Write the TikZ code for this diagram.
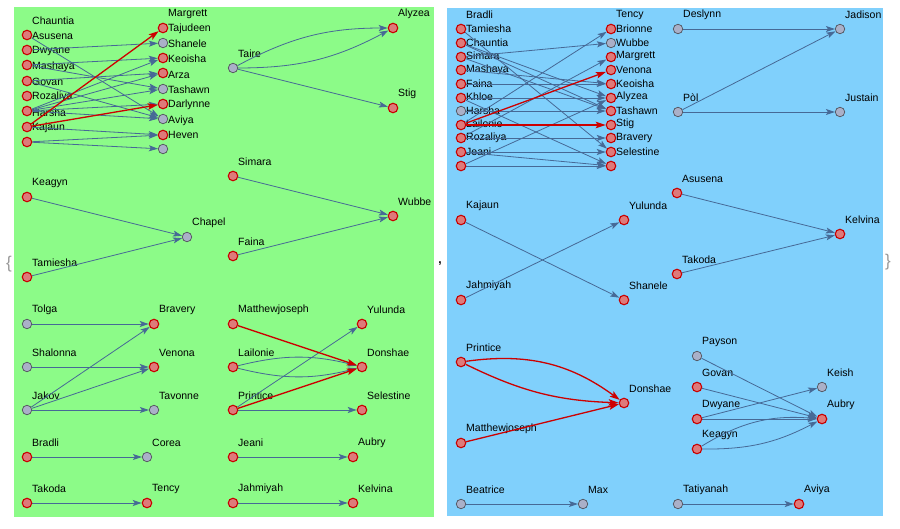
\documentclass[tikz,border=0pt]{standalone}
\usepackage{fontspec}
\setmainfont{Liberation Sans}
\usetikzlibrary{arrows.meta}
\definecolor{gbg}{RGB}{140,251,136}
\definecolor{bbg}{RGB}{128,208,252}
\definecolor{nfr}{RGB}{222,122,122}
\definecolor{ndr}{RGB}{200,0,0}
\definecolor{nfg}{RGB}{170,176,200}
\definecolor{ndg}{RGB}{80,80,90}
\definecolor{ebc}{RGB}{70,105,150}
\definecolor{erc}{RGB}{205,0,0}
\pgfdeclarelayer{lbls}
\pgfdeclarelayer{edges}
\pgfsetlayers{lbls,edges,main}
\tikzset{
 rn/.style={circle,minimum size=9.5pt,inner sep=0pt,fill=nfr,draw=ndr,line width=1.1pt},
 gn/.style={circle,minimum size=9.5pt,inner sep=0pt,fill=nfg,draw=ndg,line width=0.7pt},
 lbl/.style={anchor=west,inner sep=0pt,font=\fontsize{10.5}{12}\selectfont},
 eb/.style={draw=ebc,line width=0.8pt,-{Stealth[length=9pt,width=6pt,inset=2pt]}},
 er/.style={draw=erc,line width=1.3pt,-{Stealth[length=10pt,width=6.5pt,inset=2pt]}},
 brc/.style={text=black!40,font=\fontsize{17}{17}\selectfont,inner sep=0pt},
}
\newcommand\V[5]{\node[#5] (#1) at (#2,#3) {};\ifx&#4&\else\begin{pgfonlayer}{lbls}\node[lbl] (#1-l) at ({#2+5},{#3-14}) {#4};\end{pgfonlayer}\fi}
\begin{document}
\begin{tikzpicture}[x=1pt,y=-1pt]
\useasboundingbox (0,0) rectangle (900,529);
\begin{pgfonlayer}{lbls}
\fill[gbg] (14,7) rectangle (434,517);
\fill[bbg] (447,8) rectangle (883,516);
\end{pgfonlayer}
\node[brc] (lb) at (9,264) {\{};
\node[inner sep=0pt,font=\fontsize{12}{12}\selectfont\bfseries] (cm) at (440,264) {,};
\node[brc] (rb) at (888,262) {\}};
% ===== green panel, cluster A
\V{aChauntia}{27}{35}{Chauntia}{rn}
\V{aAsusena}{27}{50}{Asusena}{rn}
\V{aDwyane}{27}{65}{Dwyane}{rn}
\V{aMashaya}{27}{81}{Mashaya}{rn}
\V{aGovan}{27}{96}{Govan}{rn}
\V{aRozaliya}{27}{111}{Rozaliya}{rn}
\V{aHarsha}{27}{127}{Harsha}{rn}
\V{aKajaun}{27}{142}{Kajaun}{rn}
\V{aMargrett}{163}{28}{Margrett}{rn}
\V{aTajudeen}{163}{43}{Tajudeen}{gn}
\V{aShanele}{163}{58}{Shanele}{rn}
\V{aKeoisha}{163}{73}{Keoisha}{rn}
\V{aArza}{163}{89}{Arza}{gn}
\V{aTashawn}{163}{104}{Tashawn}{rn}
\V{aDarlynne}{163}{119}{Darlynne}{gn}
\V{aAviya}{163}{135}{Aviya}{rn}
\V{aHeven}{163}{149}{Heven}{gn}
\begin{pgfonlayer}{edges}
\draw[eb] (aChauntia) -- (aDarlynne);
\draw[eb] (aAsusena) -- (aTajudeen);
\draw[eb] (aDwyane) -- (aShanele);
\draw[eb] (aDwyane) -- (aArza);
\draw[eb] (aMashaya) -- (aKeoisha);
\draw[eb] (aMashaya) -- (aDarlynne);
\draw[eb] (aRozaliya) -- (aShanele);
\draw[eb] (aRozaliya) -- (aKeoisha);
\draw[eb] (aRozaliya) -- (aArza);
\draw[eb] (aRozaliya) -- (aTashawn);
\draw[eb] (aRozaliya) -- (aDarlynne);
\draw[eb] (aHarsha) -- (aAviya);
\draw[eb] (aKajaun) -- (aAviya);
\draw[eb] (aKajaun) -- (aHeven);
\draw[er] (aHarsha) -- (aMargrett);
\draw[er] (aHarsha) -- (aTashawn);
\end{pgfonlayer}
% Taire
\V{bTaire}{233}{68}{Taire}{gn}
\V{bAlyzea}{393}{28}{Alyzea}{rn}
\V{bStig}{393}{108}{Stig}{rn}
\begin{pgfonlayer}{edges}
\draw[eb] (bTaire) to[bend left=14] (bAlyzea);
\draw[eb] (bTaire) to[bend right=14] (bAlyzea);
\draw[eb] (bTaire) -- (bStig);
\end{pgfonlayer}
% Chapel
\V{cKeagyn}{27}{197}{Keagyn}{rn}
\V{cTamiesha}{27}{277}{Tamiesha}{rn}
\V{cChapel}{187}{237}{Chapel}{gn}
\V{cSimara}{233}{176}{Simara}{rn}
\V{cFaina}{233}{256}{Faina}{rn}
\V{cWubbe}{393}{216}{Wubbe}{rn}
\begin{pgfonlayer}{edges}
\draw[eb] (cKeagyn) -- (cChapel);
\draw[eb] (cTamiesha) -- (cChapel);
\draw[eb] (cSimara) -- (cWubbe);
\draw[eb] (cFaina) -- (cWubbe);
\end{pgfonlayer}
% bottom left green
\V{dTolga}{27}{324}{Tolga}{gn}
\V{dBravery}{154}{324}{Bravery}{rn}
\V{dShalonna}{27}{367}{Shalonna}{gn}
\V{dVenona}{154}{367}{Venona}{rn}
\V{dJakov}{27}{410}{Jakov}{gn}
\V{dTavonne}{154}{410}{Tavonne}{gn}
\V{dBradli}{27}{457}{Bradli}{rn}
\V{dCorea}{147}{457}{Corea}{gn}
\V{dTakoda}{27}{503}{Takoda}{rn}
\V{dTency}{147}{503}{Tency}{rn}
\begin{pgfonlayer}{edges}
\draw[eb] (dTolga) -- (dBravery);
\draw[eb] (dShalonna) -- (dVenona);
\draw[eb] (dJakov) -- (dBravery);
\draw[eb] (dJakov) -- (dVenona);
\draw[eb] (dJakov) -- (dTavonne);
\draw[eb] (dBradli) -- (dCorea);
\draw[eb] (dTakoda) -- (dTency);
\end{pgfonlayer}
% bottom right green
\V{eMatthewjoseph}{233}{324}{Matthewjoseph}{rn}
\V{eYulunda}{362}{324}{Yulunda}{rn}
\V{eLailonie}{233}{367}{Lailonie}{rn}
\V{eDonshae}{362}{367}{Donshae}{rn}
\V{ePrintice}{233}{410}{Printice}{rn}
\V{eSelestine}{362}{410}{Selestine}{rn}
\V{eJeani}{233}{457}{Jeani}{rn}
\V{eAubry}{353}{457}{Aubry}{rn}
\V{eJahmiyah}{233}{503}{Jahmiyah}{rn}
\V{eKelvina}{353}{503}{Kelvina}{rn}
\begin{pgfonlayer}{edges}
\draw[eb] (eLailonie) to[bend left=14] (eDonshae);
\draw[eb] (eLailonie) to[bend right=14] (eDonshae);
\draw[eb] (ePrintice) -- (eYulunda);
\draw[eb] (ePrintice) -- (eSelestine);
\draw[eb] (eJeani) -- (eAubry);
\draw[eb] (eJahmiyah) -- (eKelvina);
\draw[er] (eMatthewjoseph) -- (eDonshae);
\draw[er] (ePrintice) -- (eDonshae);
\end{pgfonlayer}
% ===== blue panel cluster
\V{fBradli}{461}{29}{Bradli}{rn}
\V{fTamiesha}{461}{43}{Tamiesha}{rn}
\V{fChauntia}{461}{57}{Chauntia}{rn}
\V{fSimara}{461}{70}{Simara}{rn}
\V{fMashaya}{461}{84}{Mashaya}{rn}
\V{fFaina}{461}{98}{Faina}{rn}
\V{fKhloe}{461}{111}{Khloe}{gn}
\V{fHarsha}{461}{125}{Harsha}{rn}
\V{fLailonie}{461}{138}{Lailonie}{rn}
\V{fRozaliya}{461}{152}{Rozaliya}{rn}
\V{fJeani}{461}{166}{Jeani}{rn}
\V{fTency}{611}{29}{Tency}{rn}
\V{fBrionne}{611}{43}{Brionne}{gn}
\V{fWubbe}{611}{57}{Wubbe}{rn}
\V{fMargrett}{611}{70}{Margrett}{rn}
\V{fVenona}{611}{84}{Venona}{rn}
\V{fKeoisha}{611}{98}{Keoisha}{rn}
\V{fAlyzea}{611}{111}{Alyzea}{rn}
\V{fTashawn}{611}{125}{Tashawn}{rn}
\V{fStig}{611}{138}{Stig}{rn}
\V{fBravery}{611}{152}{Bravery}{rn}
\V{fSelestine}{611}{166}{Selestine}{rn}
\begin{pgfonlayer}{edges}
\draw[eb] (fBradli) -- (fBravery);
\draw[eb] (fTamiesha) -- (fKeoisha);
\draw[eb] (fTamiesha) -- (fAlyzea);
\draw[eb] (fChauntia) -- (fBrionne);
\draw[eb] (fChauntia) -- (fAlyzea);
\draw[eb] (fSimara) -- (fVenona);
\draw[eb] (fMashaya) -- (fVenona);
\draw[eb] (fFaina) -- (fKeoisha);
\draw[eb] (fFaina) -- (fSelestine);
\draw[eb] (fKhloe) -- (fAlyzea);
\draw[eb] (fHarsha) -- (fTency);
\draw[eb] (fLailonie) -- (fWubbe);
\draw[eb] (fLailonie) -- (fStig);
\draw[eb] (fRozaliya) -- (fBravery);
\draw[eb] (fJeani) -- (fKeoisha);
\draw[eb] (fJeani) -- (fSelestine);
\draw[eb] (fRozaliya) -- (fSelestine);
\draw[er] (fHarsha) -- (fMargrett);
\draw[er] (fHarsha) -- (fTashawn);
\end{pgfonlayer}
% Deslynn
\V{gDeslynn}{678}{29}{Deslynn}{gn}
\V{gJadison}{840}{29}{Jadison}{gn}
\V{gPol}{678}{112}{Pòl}{gn}
\V{gJustain}{840}{112}{Justain}{gn}
\begin{pgfonlayer}{edges}
\draw[eb] (gDeslynn) -- (gJadison);
\draw[eb] (gPol) -- (gJadison);
\draw[eb] (gPol) -- (gJustain);
\end{pgfonlayer}
% Kajaun cross
\V{hKajaun}{461}{220}{Kajaun}{rn}
\V{hJahmiyah}{461}{300}{Jahmiyah}{rn}
\V{hYulunda}{624}{220}{Yulunda}{rn}
\V{hShanele}{624}{300}{Shanele}{rn}
\V{hAsusena}{677}{193}{Asusena}{rn}
\V{hTakoda}{677}{274}{Takoda}{rn}
\V{hKelvina}{840}{234}{Kelvina}{rn}
\begin{pgfonlayer}{edges}
\draw[eb] (hKajaun) -- (hShanele);
\draw[eb] (hJahmiyah) -- (hYulunda);
\draw[eb] (hAsusena) -- (hKelvina);
\draw[eb] (hTakoda) -- (hKelvina);
\end{pgfonlayer}
% Printice / Donshae
\V{iPrintice}{461}{362}{Printice}{rn}
\V{iDonshae}{624}{403}{Donshae}{rn}
\V{iMatthewjoseph}{461}{443}{Matthewjoseph}{rn}
\V{iBeatrice}{461}{504}{Beatrice}{gn}
\V{iMax}{583}{504}{Max}{gn}
\begin{pgfonlayer}{edges}
\draw[er] (iPrintice) to[bend left=22] (iDonshae);
\draw[er] (iPrintice) to[bend right=12] (iDonshae);
\draw[er] (iMatthewjoseph) -- (iDonshae);
\draw[eb] (iBeatrice) -- (iMax);
\end{pgfonlayer}
% Aubry
\V{jPayson}{697}{356}{Payson}{gn}
\V{jGovan}{697}{387}{Govan}{rn}
\V{jDwyane}{697}{419}{Dwyane}{rn}
\V{jKeagyn}{697}{449}{Keagyn}{rn}
\V{jKeish}{822}{387}{Keish}{gn}
\V{jAubry}{822}{419}{Aubry}{rn}
\V{jTatiyanah}{678}{504}{Tatiyanah}{gn}
\V{jAviya}{799}{504}{Aviya}{rn}
\begin{pgfonlayer}{edges}
\draw[eb] (jPayson) -- (jAubry);
\draw[eb] (jGovan) -- (jAubry);
\draw[eb] (jDwyane) -- (jAubry);
\draw[eb] (jDwyane) -- (jKeish);
\draw[eb] (jKeagyn) to[bend left=18] (jAubry);
\draw[eb] (jKeagyn) to[bend right=14] (jAubry);
\draw[eb] (jTatiyanah) -- (jAviya);
\end{pgfonlayer}
\end{tikzpicture}
\end{document}
